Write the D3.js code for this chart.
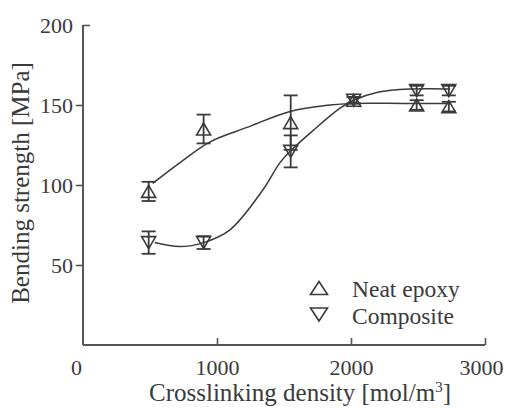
<!DOCTYPE html>
<html>
<head>
<meta charset="utf-8">
<script src="https://cdn.jsdelivr.net/npm/d3@7"></script>
<style>
  body { margin: 0; background: #fff; }
  svg { display: block; }
  text { font-family: 'Liberation Serif', serif; }
</style>
</head>
<body>
<svg id="chart" width="511" height="408"></svg>
<script>
// crosslinking density of each specimen [mol/m3]
const density = [490, 900, 1550, 2020, 2490, 2730];

// bending strength [MPa] and error bar half-widths
const neatStrength = [96, 135, 139, 153, 150, 149];
const neatErr = [6, 9, 17, 2, 3, 3];
const compStrength = [64, 64, 121, 153, 159, 159];
const compErr = [7, 4, 10, 2, 3, 3];

// fitted curves as [density, strength]
const neatFit = [[520, 101], [724, 114], [948, 127], [1224, 136], [1545, 146],
  [1843, 150], [2015, 151], [2400, 151], [2740, 151]];
const compFit = [[535, 64], [724, 61.5], [900, 64], [1097, 72], [1343, 97],
  [1470, 114], [1545, 121], [1716, 134], [1918, 148], [2020, 153],
  [2200, 158], [2450, 160], [2740, 160]];

const xTicks = [0, 1000, 2000, 3000];
const yTicks = [50, 100, 150, 200];

const ink = '#3a3a3a';
const serif = "'Liberation Serif', serif";
const svg = d3.select('#chart');

const x = d3.scaleLinear().domain([0, 3000]).range([83, 485]);
const y = d3.scaleLinear().domain([0, 200]).range([345, 25]);

// axes
const yAxis = svg.append('g')
  .attr('transform', `translate(${x(0)},0)`)
  .call(d3.axisLeft(y).tickValues(yTicks).tickSize(7).tickSizeOuter(0).tickPadding(3));
// the top tick points inward
yAxis.selectAll('.tick').filter(d => d === 200).select('line').attr('x2', 7);

const xAxis = svg.append('g')
  .attr('transform', `translate(0,${y(0)})`)
  .call(d3.axisBottom(x).tickValues(xTicks).tickFormat(d3.format('d'))
    .tickSize(-7).tickSizeOuter(0).tickPadding(14));
xAxis.selectAll('.tick').filter(d => d === 0).select('line').remove();
xAxis.selectAll('.tick').filter(d => d === 0).select('text').attr('x', -7);
xAxis.selectAll('.tick').filter(d => d === 3000).select('text').attr('x', -4);

for (const g of [xAxis, yAxis]) {
  g.attr('font-family', serif);
  g.select('.domain').attr('stroke', '#555').attr('stroke-width', 2);
  g.selectAll('.tick line').attr('stroke', '#555').attr('stroke-width', 1.6);
  g.selectAll('.tick text')
    .attr('fill', ink)
    .attr('font-size', 22);
}
// make the axes meet at the origin
yAxis.select('.domain').attr('d', `M0,${y(0)}V${y(200)}`);
xAxis.select('.domain').attr('d', `M${x(0)},0H${x(3000)}`);

// axis titles
const xTitle = svg.append('text')
  .attr('x', 300).attr('y', 401)
  .attr('text-anchor', 'middle')
  .attr('fill', ink)
  .attr('font-size', 25);
xTitle.append('tspan').text('Crosslinking density [mol/m');
xTitle.append('tspan').attr('dy', -9).attr('font-size', 15).text('3');
xTitle.append('tspan').attr('dy', 9).text(']');

svg.append('text')
  .attr('transform', 'translate(29,183) rotate(-90)')
  .attr('text-anchor', 'middle')
  .attr('fill', ink)
  .attr('font-size', 25)
  .text('Bending strength [MPa]');

// fitted curves
const line = d3.line()
  .x(d => x(d[0]))
  .y(d => y(d[1]))
  .curve(d3.curveCatmullRom.alpha(0.5));

for (const fit of [neatFit, compFit]) {
  svg.append('path')
    .attr('d', line(fit))
    .attr('fill', 'none')
    .attr('stroke', ink)
    .attr('stroke-width', 1.5);
}

// open triangle of given width / height, apex up
function triangle (w, h) {
  const p = d3.path();
  p.moveTo(0, -h / 2);
  p.lineTo(w / 2, h / 2);
  p.lineTo(-w / 2, h / 2);
  p.closePath();
  return p.toString();
}

// markers with error bars
function drawSeries (vals, errs, flip) {
  const g = svg.append('g');
  const pts = density.map((d, i) => ({ x: d, v: vals[i], e: errs[i] }));
  const cap = 7;

  const bars = g.selectAll('g.bar').data(pts).enter().append('g');
  bars.append('line')
    .attr('x1', d => x(d.x)).attr('x2', d => x(d.x))
    .attr('y1', d => y(d.v + d.e)).attr('y2', d => y(d.v - d.e));
  bars.append('line')
    .attr('x1', d => x(d.x) - cap).attr('x2', d => x(d.x) + cap)
    .attr('y1', d => y(d.v + d.e)).attr('y2', d => y(d.v + d.e));
  bars.append('line')
    .attr('x1', d => x(d.x) - cap).attr('x2', d => x(d.x) + cap)
    .attr('y1', d => y(d.v - d.e)).attr('y2', d => y(d.v - d.e));
  bars.selectAll('line').attr('stroke', ink).attr('stroke-width', 1.8);

  g.selectAll('path').data(pts).enter().append('path')
    .attr('d', triangle(14, 12))
    .attr('transform', d => `translate(${x(d.x)},${y(d.v)})${flip ? ' rotate(180)' : ''}`)
    .attr('fill', 'none')
    .attr('stroke', ink)
    .attr('stroke-width', 1.6);
}

drawSeries(neatStrength, neatErr, false);
drawSeries(compStrength, compErr, true);

// legend
const legendItems = ['Neat epoxy', 'Composite'];
const legend = svg.append('g');
legendItems.forEach((name, i) => {
  const ly = 288 + i * 26.5;
  legend.append('path')
    .attr('d', triangle(17, 13))
    .attr('transform', `translate(319,${ly})${i ? ' rotate(180)' : ''}`)
    .attr('fill', 'none')
    .attr('stroke', ink)
    .attr('stroke-width', 1.6);
  legend.append('text')
    .attr('x', 352).attr('y', ly + 9)
    .attr('fill', ink)
    .attr('font-size', 23.5)
    .text(name);
});
</script>
</body>
</html>
